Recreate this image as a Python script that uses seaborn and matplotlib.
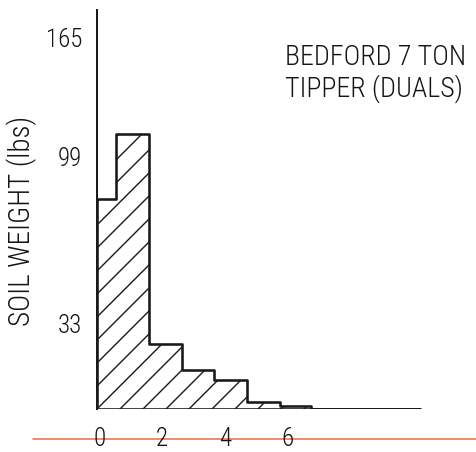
# =========================
# SOIL WEIGHT HISTOGRAM - BEDFORD 7 TON TIPPER
# =========================

import numpy as np
import pandas as pd
import matplotlib
matplotlib.use("Agg")
import matplotlib.pyplot as plt
from matplotlib.lines import Line2D
import seaborn as sns

# =========================
# DATA
# =========================

bin_edges = [-0.08, 0.52, 1.58, 2.63, 3.65, 4.71, 5.76, 6.75, 10.24]
soil_lbs = [82, 111, 25, 15, 11, 2.7, 1.2, 0]

x_ticks = [0, 2, 4, 6]
y_ticks = [33, 99, 165]

title_text = "BEDFORD 7 TON\nTIPPER (DUALS)"
y_label = "SOIL WEIGHT (lbs)"

# the printed axis is not evenly spaced: anchor values -> pixel heights
scale_vals = [-100, 0, 33, 99, 165, 250]
scale_pix = [-260, 0, 86, 253, 372, 526]

df = pd.DataFrame({
    "distance": [(a + b) / 2 for a, b in zip(bin_edges[:-1], bin_edges[1:])],
    "soil": soil_lbs,
})

# =========================
# STYLE
# =========================

DPI = 138
W, H = 476, 452


def pt(px):
    return px * 72 / DPI


sns.set_style("white")
plt.rcParams["font.family"] = ["Roboto Condensed", "DejaVu Sans"]
plt.rcParams["font.weight"] = "light"
plt.rcParams["axes.labelweight"] = "light"
plt.rcParams["hatch.color"] = "#1a1a1a"
plt.rcParams["hatch.linewidth"] = pt(1.4)

ink = "#141414"

# =========================
# PLOT
# =========================

fig = plt.figure(figsize=(W / DPI, H / DPI), dpi=DPI)
ax = fig.add_axes([97 / W, 43 / H, 379 / W, 399 / H])

ax.set_yscale(
    "function",
    functions=(
        lambda v: np.interp(v, scale_vals, scale_pix),
        lambda p: np.interp(p, scale_pix, scale_vals),
    ),
)

sns.histplot(
    data=df,
    x="distance",
    weights="soil",
    bins=bin_edges,
    element="step",
    fill=True,
    facecolor="white",
    edgecolor="#1a1a1a",
    linewidth=pt(2.6),
    hatch="//",
    ax=ax,
)

ax.set_xlim(-0.08, 12.03)
ax.set_ylim(0, 180)

ax.set_xticks(x_ticks)
ax.set_xticklabels([str(t) for t in x_ticks])
ax.set_yticks(y_ticks)
ax.set_yticklabels([str(t) for t in y_ticks])
ax.tick_params(axis="x", length=0, pad=pt(18), labelsize=pt(25), labelcolor=ink)
ax.tick_params(axis="y", length=0, pad=pt(15), labelsize=pt(25), labelcolor=ink)
ax.minorticks_off()

for side in ["top", "right", "bottom"]:
    ax.spines[side].set_visible(False)
ax.spines["left"].set_color("#1a1a1a")
ax.spines["left"].set_linewidth(pt(2))

ax.set_xlabel("")
ax.set_ylabel(y_label, fontsize=pt(29), color=ink, va="center", fontweight="light")
ax.yaxis.set_label_coords((22 - 97) / 379, (409 - 221) / 399)

# baseline of the last line sits at y=97 px
fig.text(285 / W, 1 - 97 / H, title_text, ha="left", va="baseline",
         fontsize=pt(28), color=ink, linespacing=1.15)

# red rule running through the x tick labels
fig.add_artist(Line2D([33 / W, 1.0], [1 - 439 / H, 1 - 439 / H],
                      transform=fig.transFigure, color="#e9714f",
                      linewidth=pt(1.6), zorder=0))

fig.savefig("out.png", dpi=DPI)
plt.close(fig)
